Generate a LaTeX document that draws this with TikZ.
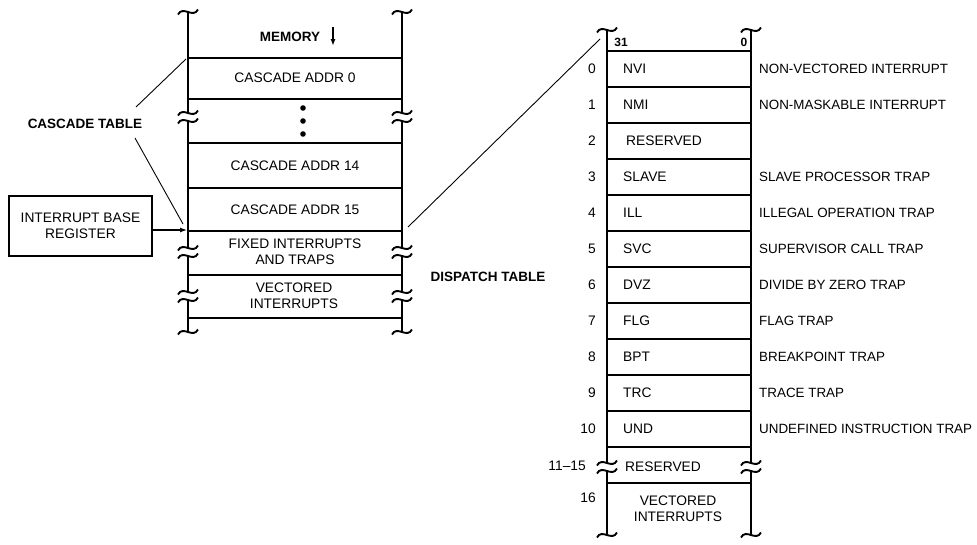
\documentclass[tikz,border=0pt]{standalone}
\usepackage{fontspec}
\setmainfont{Liberation Sans}
\usetikzlibrary{arrows.meta}

\tikzset{
  txt/.style={font=\fontsize{13.8}{16}\selectfont, inner sep=0pt},
  desc/.style={font=\fontsize{13.4}{16}\selectfont, inner sep=0pt},
  btxt/.style={font=\fontsize{13.5}{16}\selectfont\bfseries, inner sep=0pt},
  col/.style={line width=2.2pt},
  lead/.style={line width=0.9pt},
  squig/.pic={\draw[line width=1.9pt] (-10,2.5) .. controls (-5,-7) and (5,7) .. (10,-2.5);},
}

\begin{document}
\begin{tikzpicture}[x=1pt, y=-1pt]
        \useasboundingbox (0,0) rectangle (977,544);
        % memory column
        \draw[col] (188,12) -- (188,113) (188,121) -- (188,248) (188,256) -- (188,292) (188,300) -- (188,332);
        \draw[col] (402,12) -- (402,113) (402,121) -- (402,248) (402,256) -- (402,292) (402,300) -- (402,332);
        \foreach \y in {58,99,143,188,231,275,318}
            \draw[col] (188,\y) -- (402,\y);
        \foreach \x in {188,402} {
            \pic at (\x,12) {squig};
            \pic at (\x,332) {squig};
            \foreach \y in {117,252,296} {
                \pic at (\x,\y-4) {squig};
                \pic at (\x,\y+4) {squig};
            }
        }
        \node[btxt] (mem) at (290,37) {MEMORY};
        \draw[line width=1.5pt, -{Latex[length=7pt,width=5pt]}] (333,27) -- (333,46);
        \node[txt] (ca0) at (295,78) {CASCADE ADDR 0};
        \foreach \y in {108,121,134}
            \fill (303,\y) circle[radius=2.8pt];
        \node[txt] (ca14) at (295,166) {CASCADE ADDR 14};
        \node[txt] (ca15) at (295,210) {CASCADE ADDR 15};
        \node[txt, align=center] (fix) at (295,252) {FIXED INTERRUPTS\\AND TRAPS};
        \node[txt, align=center] (vec) at (294,296) {VECTORED\\INTERRUPTS};

        % labels and leaders on the left
        \node[btxt] (ct) at (85,124) {CASCADE TABLE};
        \coordinate (cta) at (136,107);
        \coordinate (ctb) at (135,138);
        \coordinate (m0w) at (186,59);
        \coordinate (m15w) at (183,224);
        \draw[lead] (cta) -- (m0w);
        \draw[lead] (ctb) -- (m15w);
        \node[txt, draw, line width=2pt, align=center, minimum width=143pt, minimum height=60pt] (ibr) at (80.5,226) {INTERRUPT BASE\\REGISTER};
        \coordinate (ibrin) at (187,230);
        \draw[line width=1.2pt, -{Latex[length=7pt,width=5pt]}] (ibr.east |- ibrin) -- (ibrin);

        % dispatch table
        \coordinate (m15e) at (408,227);
        \coordinate (dtop) at (600,39);
        \draw[lead] (m15e) -- (dtop);
        \node[btxt] (dt) at (488,277) {DISPATCH TABLE};

        \draw[col] (607,30) -- (607,463) (607,471) -- (607,535);
        \draw[col] (751,30) -- (751,463) (751,471) -- (751,535);
        \foreach \k in {0,...,11}
            \draw[col] (607,51+36*\k) -- (751,51+36*\k);
        \draw[col] (607,483) -- (751,483);
        \foreach \x in {607,751} {
            \pic at (\x,30) {squig};
            \pic at (\x,535) {squig};
            \pic at (\x,463) {squig};
            \pic at (\x,471) {squig};
        }
        \node[font=\fontsize{12}{14}\selectfont\bfseries, inner sep=0pt] (b31) at (621,42) {31};
        \node[font=\fontsize{12}{14}\selectfont\bfseries, inner sep=0pt] (b0) at (744,42) {0};

        \foreach \k/\cd/\ds in {0/NVI/NON-VECTORED INTERRUPT, 1/NMI/NON-MASKABLE INTERRUPT,
                3/SLAVE/SLAVE PROCESSOR TRAP, 4/ILL/ILLEGAL OPERATION TRAP,
                5/SVC/SUPERVISOR CALL TRAP, 6/DVZ/DIVIDE BY ZERO TRAP, 7/FLG/FLAG TRAP,
                8/BPT/BREAKPOINT TRAP, 9/TRC/TRACE TRAP, 10/UND/UNDEFINED INSTRUCTION TRAP} {
            \node[txt, anchor=east] (n\k) at (596,69+36*\k) {\k};
            \node[txt, anchor=west] (c\k) at (623,69+36*\k) {\cd};
            \node[desc, anchor=west] (t\k) at (759,69+36*\k) {\ds};
        }
        \node[txt, anchor=east] (n2) at (596,141) {2};
        \node[txt, anchor=west] (c2) at (626,141) {RESERVED};
        \node[txt, anchor=east] (n11) at (586,466) {11--15};
        \node[txt, anchor=west] (c11) at (625,467) {RESERVED};
        \node[txt, anchor=east] (n16) at (596,498) {16};
        \node[txt, align=center] (c16) at (678,509) {VECTORED\\INTERRUPTS};
    \end{tikzpicture}
\end{document}
